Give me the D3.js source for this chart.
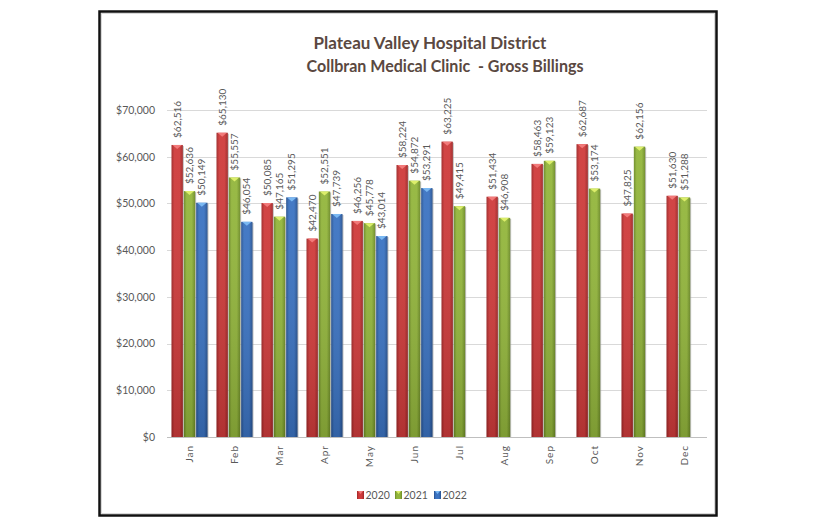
<!DOCTYPE html>
<html>
<head>
<meta charset="utf-8">
<script src="https://cdn.jsdelivr.net/npm/d3@7"></script>
<style>
  html, body { margin: 0; padding: 0; background: #ffffff; }
  svg { display: block; }
  text { font-family: Lato, "Open Sans", sans-serif; }
</style>
</head>
<body>
<svg id="chart" width="816" height="528"></svg>
<script>
const months = ["Jan","Feb","Mar","Apr","May","Jun","Jul","Aug","Sep","Oct","Nov","Dec"];
const seriesNames = ["2020","2021","2022"];
const values2020 = [62516, 65130, 50085, 42470, 46256, 58224, 63225, 51434, 58463, 62687, 47825, 51630];
const values2021 = [52636, 55557, 47165, 52551, 45778, 54872, 49415, 46908, 59123, 53174, 62156, 51288];
const values2022 = [50149, 46054, 51295, 47739, 43014, 53291, null, null, null, null, null, null];
const yTicks = [0, 10000, 20000, 30000, 40000, 50000, 60000, 70000];
const titleLines = ["Plateau Valley Hospital District", "Collbran Medical Clinic  - Gross Billings"];

const palette = {
  "2020": { main: "#cf3b3b", dark: "#9e2626", cap: "#f27a7a" },
  "2021": { main: "#93b63c", dark: "#6c8a26", cap: "#dcee6a" },
  "2022": { main: "#3b73c2", dark: "#26518f", cap: "#7ab8f2" }
};

const seriesValues = [values2020, values2021, values2022];
const svg = d3.select("#chart");

// frame
svg.append("rect").attr("x", 99.5).attr("y", 11.5).attr("width", 617).attr("height", 504)
  .attr("fill", "#ffffff").attr("stroke", "#111111").attr("stroke-width", 2.5);
svg.append("rect").attr("x", 101.5).attr("y", 13.5).attr("width", 613).attr("height", 500)
  .attr("fill", "none").attr("stroke", "#d9d9d9").attr("stroke-width", 1);

// gradients
const defs = svg.append("defs");
seriesNames.forEach(s => {
  const g = defs.append("linearGradient").attr("id", "grad" + s)
    .attr("x1", "0%").attr("x2", "100%").attr("y1", "0%").attr("y2", "0%");
  g.append("stop").attr("offset", "0%").attr("stop-color", palette[s].dark);
  g.append("stop").attr("offset", "25%").attr("stop-color", palette[s].main);
  g.append("stop").attr("offset", "70%").attr("stop-color", palette[s].main);
  g.append("stop").attr("offset", "100%").attr("stop-color", palette[s].dark);
  const v = defs.append("linearGradient").attr("id", "shade" + s)
    .attr("x1", "0%").attr("x2", "0%").attr("y1", "0%").attr("y2", "100%");
  v.append("stop").attr("offset", "0%").attr("stop-color", "#ffffff").attr("stop-opacity", 0.05);
  v.append("stop").attr("offset", "100%").attr("stop-color", "#000000").attr("stop-opacity", 0.15);
});

// title
svg.append("text").attr("x", 430).attr("y", 49).attr("text-anchor", "middle")
  .attr("font-size", 17).attr("font-weight", 700).attr("fill", "#5a4841").text(titleLines[0]);
svg.append("text").attr("x", 445).attr("y", 72).attr("text-anchor", "middle")
  .attr("font-size", 17).attr("font-weight", 700).attr("fill", "#5a4841")
  .attr("textLength", 277).attr("lengthAdjust", "spacingAndGlyphs")
  .attr("xml:space", "preserve").style("white-space", "pre").text(titleLines[1]);

// scales
const y = d3.scaleLinear().domain([0, 70000]).range([437, 110]);
const x0 = d3.scaleBand().domain(months).range([167, 707]).paddingInner(0.2).paddingOuter(0.1);
const x1 = d3.scaleBand().domain(seriesNames).range([0, x0.bandwidth()]).paddingInner(0.08);

// gridlines
svg.append("g").selectAll("line").data(yTicks).join("line")
  .attr("x1", 167).attr("x2", 707)
  .attr("y1", d => Math.round(y(d)) + 0.5).attr("y2", d => Math.round(y(d)) + 0.5)
  .attr("stroke", d => d === 0 ? "#bfbfbf" : "#d9d9d9").attr("stroke-width", 1);

// y axis
const yAxis = d3.axisLeft(y).tickValues(yTicks).tickSize(0).tickPadding(12)
  .tickFormat(d => "$" + d3.format(",")(d));
const yg = svg.append("g").attr("transform", "translate(167,0)").call(yAxis);
yg.select(".domain").remove();
yg.selectAll("text").attr("font-size", 10.5).attr("fill", "#595959")
  .style("font-family", "Lato, sans-serif");

// x axis labels
const xAxis = d3.axisBottom(x0).tickSize(0).tickPadding(0);
const xg = svg.append("g").attr("transform", "translate(0,437)").call(xAxis);
xg.select(".domain").remove();
xg.selectAll("text")
  .attr("font-size", 10).attr("fill", "#595959").attr("letter-spacing", 1)
  .style("font-family", "Lato, sans-serif")
  .attr("text-anchor", "end").attr("dy", null).attr("y", 0).attr("x", 0)
  .attr("transform", "translate(3.5,8) rotate(-90)");

// bars
const rows = [];
months.forEach((m, i) => {
  seriesNames.forEach((s, j) => {
    const v = seriesValues[j][i];
    if (v !== null && v !== undefined) rows.push({ month: m, series: s, value: v });
  });
});

const bw = x1.bandwidth();
const bars = svg.append("g");
const bx = d => x0(d.month) + x1(d.series);

// shadow
bars.selectAll("rect.shadow").data(rows).join("rect").attr("class", "shadow")
  .attr("x", d => bx(d) + 1).attr("y", d => y(d.value) + 1)
  .attr("width", bw).attr("height", d => y(0) - y(d.value) - 1)
  .attr("fill", "#9a9a9a").attr("opacity", 0.6);
bars.selectAll("rect.bar").data(rows).join("rect").attr("class", "bar")
  .attr("x", d => bx(d)).attr("y", d => y(d.value))
  .attr("width", bw).attr("height", d => y(0) - y(d.value))
  .attr("fill", d => "url(#grad" + d.series + ")");
bars.selectAll("rect.shade").data(rows).join("rect").attr("class", "shade")
  .attr("x", d => bx(d)).attr("y", d => y(d.value))
  .attr("width", bw).attr("height", d => y(0) - y(d.value))
  .attr("fill", d => "url(#shade" + d.series + ")");
bars.selectAll("path.cap").data(rows).join("path").attr("class", "cap")
  .attr("d", d => {
    const xl = bx(d), xr = xl + bw, t = y(d.value);
    return `M${xl + 1},${t} L${xr - 1},${t} L${(xl + xr) / 2},${t + 4} Z`;
  })
  .attr("fill", d => palette[d.series].cap);

// value labels
svg.append("g").selectAll("text").data(rows).join("text")
  .attr("transform", d => `translate(${bx(d) + bw / 2 + 3.5},${y(d.value) - 7}) rotate(-90)`)
  .attr("text-anchor", "start").attr("font-size", 10).attr("fill", "#595959")
  .text(d => "$" + d3.format(",")(d.value));

// legend
const legendX = [357, 395, 434];
const lg = svg.append("g");
seriesNames.forEach((s, i) => {
  const g = lg.append("g").attr("transform", `translate(${legendX[i]},491)`);
  g.append("rect").attr("width", 7).attr("height", 8).attr("fill", "url(#grad" + s + ")");
  g.append("path").attr("d", "M1,0 L6,0 L3.5,3 Z").attr("fill", palette[s].cap);
  g.append("text").attr("x", 8.5).attr("y", 8).attr("font-size", 10.5).attr("fill", "#595959").text(s);
});
</script>
</body>
</html>
